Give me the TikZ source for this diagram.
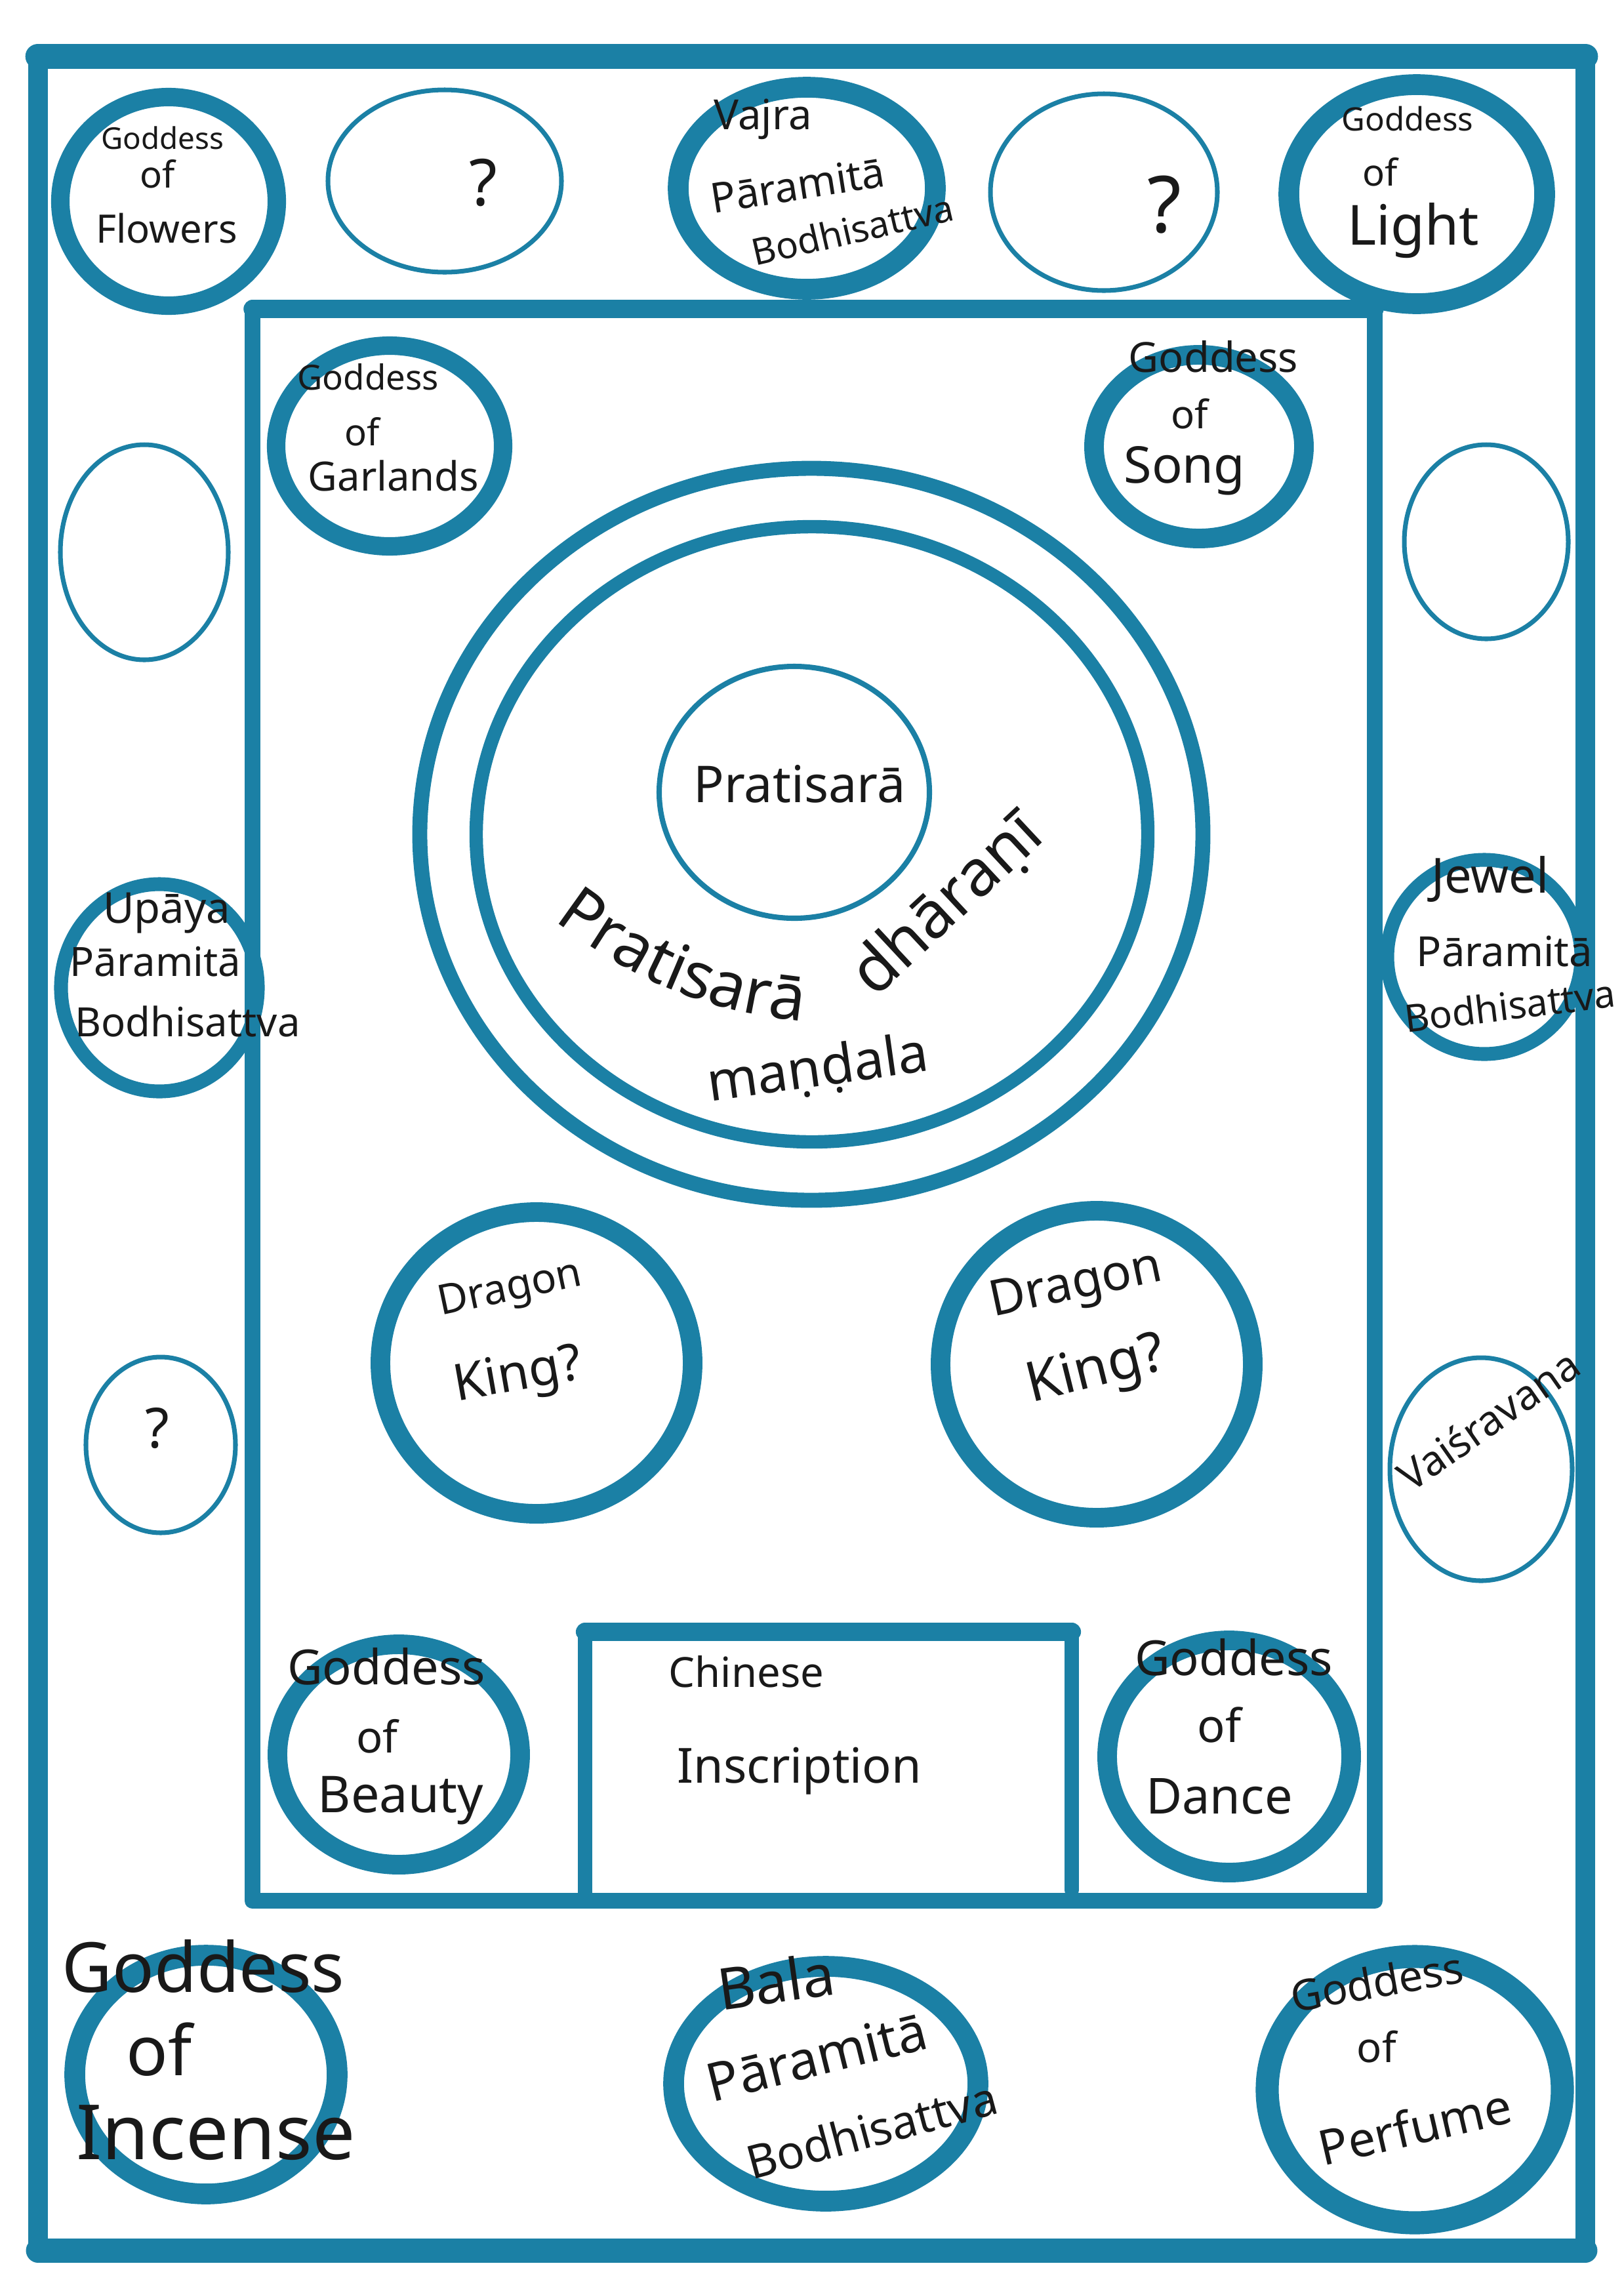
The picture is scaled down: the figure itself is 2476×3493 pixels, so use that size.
\documentclass[tikz,border=0pt]{standalone}
\usepackage{fontspec}
\setmainfont{Noto Sans}
\usetikzlibrary{decorations.text}
\definecolor{ink}{RGB}{27,128,165}
\definecolor{pen}{RGB}{25,25,25}
\begin{document}
\begin{tikzpicture}[x=0.01cm, y=-0.01cm,
  ringline/.style={draw=ink, line width=#1},
  thinline/.style={draw=ink, line width=2pt},
  frameline/.style={draw=ink, line width=#1, line join=round, line cap=round},
  lbl/.style={text=pen, inner sep=0pt, font=\fontsize{#1}{#1}\selectfont}]
\fill[white] (0,0) rectangle (2476,3493);
\useasboundingbox (0,0) rectangle (2476,3493);

% ---- outer frame
\coordinate (oTL) at (58,86);
\coordinate (oTR) at (2417,86);
\coordinate (oBR) at (2417,3431);
\coordinate (oBL) at (58,3431);
\draw[frameline=8.5pt] (oTL) -- (oTR) -- (oBR) -- (oBL) -- cycle;
\draw[frameline=11pt] (oTL) -- (oTR);
\draw[frameline=10.5pt] (oBL) -- (oBR);

% ---- inner frame
\coordinate (iTL) at (385,471);
\coordinate (iTR) at (2096,471);
\coordinate (iBR) at (2096,2898);
\coordinate (iBL) at (385,2898);
\draw[frameline=7pt] (iTL) -- (iTR) -- (iBR) -- (iBL) -- cycle;
\draw[frameline=7.8pt] (iTL) -- (iTR);

% ---- inscription box
\coordinate (bBL) at (892,2885);
\coordinate (bTL) at (892,2488);
\coordinate (bTR) at (1634,2488);
\coordinate (bBR) at (1634,2882);
\draw[frameline=6pt] (bBL) -- (bTL) -- (bTR) -- (bBR);
\draw[frameline=8pt] (bTL) -- (bTR);

% ---- circle centres
\coordinate (flowers) at (257,307);
\coordinate (qA) at (678,276);
\coordinate (vajra) at (1230,287);
\coordinate (qB) at (1683,293);
\coordinate (light) at (2160,296);
\coordinate (emptyL) at (220,842);
\coordinate (upaya) at (243,1506);
\coordinate (qL) at (245,2203);
\coordinate (incense) at (314,3163);
\coordinate (emptyR) at (2266,826);
\coordinate (jewel) at (2263,1459);
\coordinate (vais) at (2258,2240);
\coordinate (perfume) at (2157,3186);
\coordinate (bala) at (1259,3177);
\coordinate (garlands) at (594,680);
\coordinate (song) at (1828,681);
\coordinate (bigO) at (1237,1272);
\coordinate (bigI) at (1238,1272);
\coordinate (prat) at (1211,1208);
\coordinate (dragonL) at (818,2078);
\coordinate (dragonR) at (1672,2080);
\coordinate (beauty) at (608,2675);
\coordinate (dance) at (1874,2678);

% ---- rings
\draw[ringline=8pt] (flowers) ellipse [x radius=165, y radius=159];
\draw[thinline] (qA) ellipse [x radius=178, y radius=139];
\draw[ringline=9pt] (vajra) ellipse [x radius=196, y radius=154];
\draw[thinline] (qB) ellipse [x radius=173, y radius=150];
\draw[ringline=9pt] (light) ellipse [x radius=195, y radius=167];
\draw[thinline] (emptyL) ellipse [x radius=128, y radius=164];
\draw[ringline=6pt] (upaya) ellipse [x radius=150, y radius=158];
\draw[thinline] (qL) ellipse [x radius=114, y radius=134];
\draw[ringline=9pt] (incense) ellipse [x radius=200, y radius=182];
\draw[thinline] (emptyR) ellipse [x radius=125, y radius=148];
\draw[ringline=6pt] (jewel) ellipse [x radius=148, y radius=148];
\draw[thinline] (vais) ellipse [x radius=139, y radius=170];
\draw[ringline=10pt] (perfume) ellipse [x radius=225, y radius=203];
\draw[ringline=9pt] (bala) ellipse [x radius=232, y radius=179];
\draw[ringline=8pt] (garlands) ellipse [x radius=173, y radius=153];
\draw[ringline=8.5pt] (song) ellipse [x radius=160, y radius=140];
\draw[ringline=6.5pt] (bigO) ellipse [x radius=597, y radius=558];
\draw[ringline=5.8pt] (bigI) ellipse [x radius=512, y radius=469];
\draw[draw=ink, line width=2.3pt] (prat) ellipse [x radius=206, y radius=192];
\draw[ringline=8.5pt] (dragonL) ellipse [x radius=238, y radius=230];
\draw[ringline=8.5pt] (dragonR) ellipse [x radius=238, y radius=234];
\draw[ringline=8.5pt] (beauty) ellipse [x radius=185, y radius=168];
\draw[ringline=8.5pt] (dance) ellipse [x radius=186, y radius=177];

% ---- labels
\node[lbl=13] (fl1) at (248,210) {Goddess};
\node[lbl=16] (fl2) at (240,265) {of};
\node[lbl=17] (fl3) at (254,348) {Flowers};

\node[lbl=28] (qAt) at (737,279) {?};
\node[lbl=34] (qBt) at (1775,312) {?};
\node[lbl=24] (qLt) at (240,2178) {?};

\node[lbl=18] (vj1) at (1163,182) {Vajra};
\node[lbl=18, rotate=9] (vj2) at (1216,282) {Pāramitā};
\node[lbl=16, rotate=13] (vj3) at (1300,350) {Bodhisattva};

\node[lbl=14] (lt1) at (2146,181) {Goddess};
\node[lbl=16] (lt2) at (2104,262) {of};
\node[lbl=24] (lt3) at (2155,352) {Light};

\node[lbl=15] (ga1) at (561,575) {Goddess};
\node[lbl=16] (ga2) at (552,658) {of};
\node[lbl=17.5] (ga3) at (600,725) {Garlands};

\node[lbl=18] (so1) at (1850,544) {Goddess};
\node[lbl=17] (so2) at (1814,631) {of};
\node[lbl=22] (so3) at (1806,718) {Song};

\node[lbl=22] (pr) at (1219,1195) {Pratisarā};

\coordinate (ps1) at (815,1380);
\coordinate (ps2) at (960,1495);
\coordinate (ps3) at (1080,1550);
\coordinate (ps4) at (1262,1560);
\path[decorate, decoration={text along path, text color=pen,
   text={|\fontsize{28}{28}\selectfont|Pratisarā}, text align=center}]
   (ps1) .. controls (ps2) and (ps3) .. (ps4);
\node[lbl=28, rotate=43] (dh) at (1445,1380) {dhāraṇī};
\node[lbl=23.5, rotate=8] (md) at (1247,1632) {maṇḍala};

\node[lbl=18.5] (up1) at (254,1392) {Upāya};
\node[lbl=17.5] (up2) at (237,1466) {Pāramitā};
\node[lbl=17.5] (up3) at (286,1557) {Bodhisattva};

\node[lbl=21] (jw1) at (2272,1340) {Jewel};
\node[lbl=18] (jw2) at (2294,1450) {Pāramitā};
\node[lbl=16.5, rotate=7] (jw3) at (2302,1533) {Bodhisattva};

\node[lbl=18, rotate=35] (vs) at (2269,2165) {Vaiśravana};

\node[lbl=18, rotate=12] (dl1) at (778,1968) {Dragon};
\node[lbl=22, rotate=10] (dl2) at (790,2100) {King?};
\node[lbl=21.5, rotate=12] (dr1) at (1641,1962) {Dragon};
\node[lbl=24, rotate=14] (dr2) at (1672,2092) {King?};

\node[lbl=21] (be1) at (589,2541) {Goddess};
\node[lbl=19] (be2) at (575,2647) {of};
\node[lbl=22] (be3) at (611,2745) {Beauty};

\node[lbl=18] (ch1) at (1138,2549) {Chinese};
\node[lbl=21] (ch2) at (1219,2700) {Inscription};

\node[lbl=21] (da1) at (1881,2527) {Goddess};
\node[lbl=20] (da2) at (1859,2630) {of};
\node[lbl=21.5] (da3) at (1859,2739) {Dance};

\node[lbl=30] (in1) at (310,2998) {Goddess};
\node[lbl=30] (in2) at (243,3125) {of};
\node[lbl=33] (in3) at (329,3252) {Incense};

\node[lbl=25, rotate=8] (ba1) at (1183,3020) {Bala};
\node[lbl=23, rotate=14] (ba2) at (1245,3135) {Pāramitā};
\node[lbl=20, rotate=15] (ba3) at (1329,3247) {Bodhisattva};

\node[lbl=18.5, rotate=10] (pe1) at (2099,3021) {Goddess};
\node[lbl=18] (pe2) at (2099,3121) {of};
\node[lbl=21, rotate=13] (pe3) at (2157,3242) {Perfume};
\end{tikzpicture}
\end{document}
